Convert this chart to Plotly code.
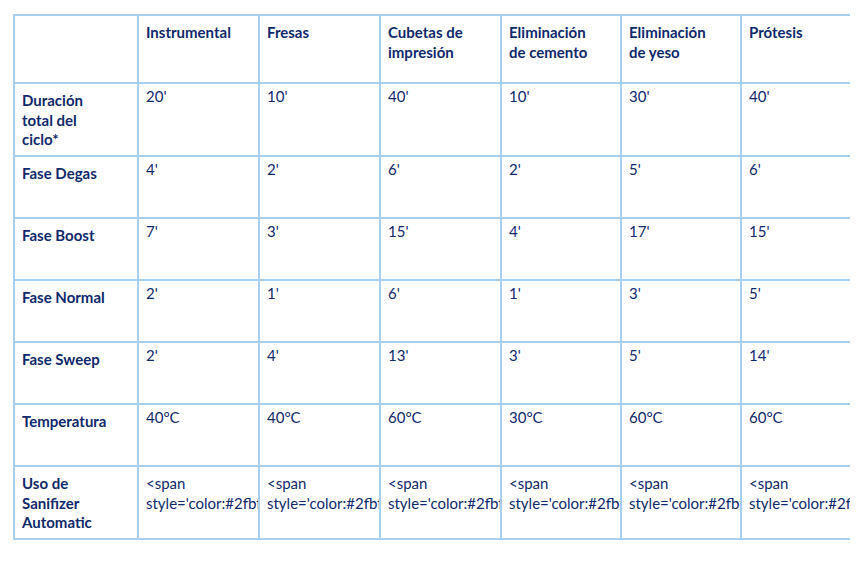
import plotly.graph_objects as go

NAVY = "#10296b"
GREEN = "#2fbf8f"
BORDER = "#a9cfee"

columnas = ["", "Instrumental", "Fresas", "Cubetas de<br>impresión",
            "Eliminación<br>de cemento", "Eliminación<br>de yeso", "Prótesis"]
filas = ["Duración<br>total del<br>ciclo*", "Fase Degas", "Fase Boost",
         "Fase Normal", "Fase Sweep", "Temperatura", "Uso de<br>Sanifizer<br>Automatic"]

duracion = ["20'", "10'", "40'", "10'", "30'", "40'"]
degas = ["4'", "2'", "6'", "2'", "5'", "6'"]
boost = ["7'", "3'", "15'", "4'", "17'", "15'"]
normal = ["2'", "1'", "6'", "1'", "3'", "5'"]
sweep = ["2'", "4'", "13'", "3'", "5'", "14'"]
temperatura = ["40°C", "40°C", "60°C", "30°C", "60°C", "60°C"]
sanifizer_asterisco = [False, False, True, False, True, True]

def check(ast):
    s = f"<span style='color:{GREEN};font-size:26px'>✓</span>"
    if ast:
        s += "<sup>*</sup>"
    return s

uso = [check(a) for a in sanifizer_asterisco]

datos = [duracion, degas, boost, normal, sweep, temperatura, uso]
col_vals = [["<b>" + f + "</b>" for f in filas]]
for j in range(6):
    col_vals.append([fila[j] for fila in datos])

fig = go.Figure(go.Table(
    columnwidth=[124, 121, 121, 121, 120, 120, 120],
    header=dict(
        values=["<b>" + c + "</b>" for c in columnas],
        fill_color="white",
        line_color=BORDER, line_width=2,
        align="left",
        font=dict(family="Lato", size=15, color=NAVY),
        height=68,
    ),
    cells=dict(
        values=col_vals,
        fill_color="white",
        line_color=BORDER, line_width=2,
        align="left",
        font=dict(family="Lato", size=15, color=NAVY),
        height=62,
    ),
    domain=dict(x=[0, 1], y=[0, 1]),
))

fig.update_layout(
    width=858, height=570,
    margin=dict(l=6, r=5, t=7, b=4),
    paper_bgcolor="white",
)

fig.write_html("out.html")
